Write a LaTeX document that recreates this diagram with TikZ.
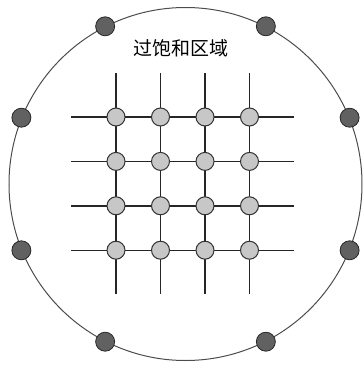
\documentclass[tikz,border=0pt]{standalone}
\usepackage{fontspec}
\newfontfamily\cjk{Noto Sans CJK SC}
\usetikzlibrary{positioning}

\begin{document}
\begin{tikzpicture}[x=1pt, y=-1pt,
  rim/.style={circle, draw=black!70, line width=1pt, minimum size=353pt, inner sep=0pt},
  site/.style={circle, draw=black!80, fill=black!22, line width=1pt, minimum size=18pt, inner sep=0pt},
  edge dot/.style={circle, draw=black!85, fill=black!62, line width=0.8pt, minimum size=19pt, inner sep=0pt},
  wire/.style={line width=1.4pt, black!85},
  title/.style={font=\cjk\fontsize{19}{19}\selectfont}
]
  \useasboundingbox (0,0) rectangle (363,365);

  \node[rim] (rim) at (185.5,184) {};

  \node[title] (region) at (181,48) {过饱和区域};

  % grid wires
  \foreach \i in {1,...,4} {
    \coordinate (top\i) at ({116+44.5*(\i-1)},73);
    \coordinate (bot\i) at ({116+44.5*(\i-1)},294);
    \coordinate (lft\i) at (71,{117+44.4*(\i-1)});
    \coordinate (rgt\i) at (294,{117+44.4*(\i-1)});
    \draw[wire] (top\i) -- (bot\i);
    \draw[wire] (lft\i) -- (rgt\i);
  }

  % grid sites
  \foreach \i in {1,...,4}
    \foreach \j in {1,...,4}
      \node[site] (s\i\j) at ({116+44.5*(\i-1)},{117+44.4*(\j-1)}) {};

  % dots on the rim
  \foreach \a in {22,63,117,158,202,243,297,338}
    \node[edge dot] (d\a) at (rim.\a) {};
\end{tikzpicture}
\end{document}
